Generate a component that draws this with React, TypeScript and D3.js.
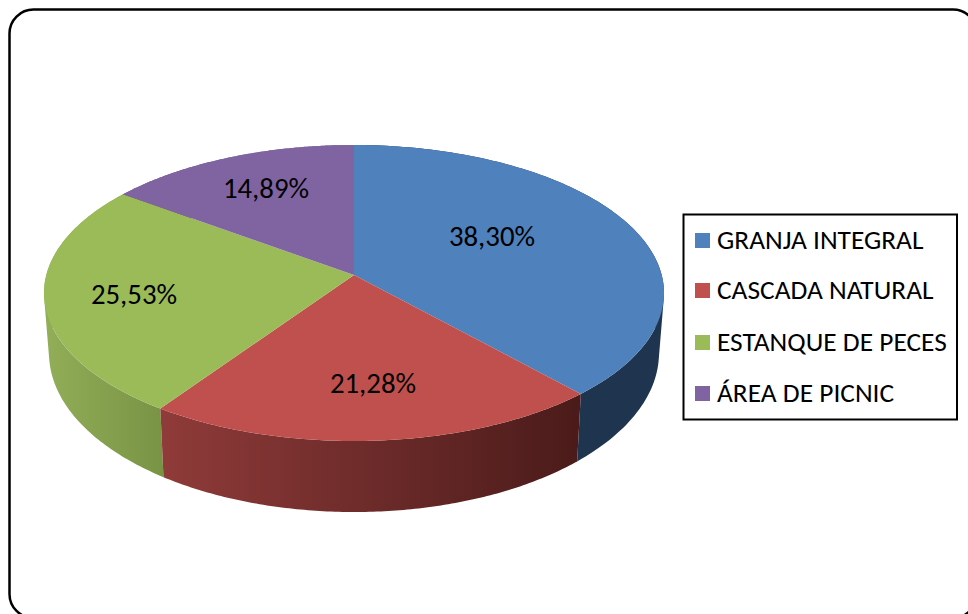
import React from "react";
import * as d3 from "d3";

const categories = ["GRANJA INTEGRAL", "CASCADA NATURAL", "ESTANQUE DE PECES", "ÁREA DE PICNIC"];
const values = [38.30, 21.28, 25.53, 14.89];
const labels = ["38,30%", "21,28%", "25,53%", "14,89%"];
const topColors = ["#4f81bd", "#c0504d", "#9bbb59", "#8064a2"];

const W = 968, H = 614;
const cx = 354, cyTop = 293, rxTop = 310, ryTop = 148;
const cyBot = 353, rxBot = 305, ryBot = 159;
const k = -18 / 148; // perspective shift of the pie's apex

const proj = (a: number, r = 1) => {
  const u = r * Math.sin(a), v = -r * Math.cos(a);
  const d = 1 + k * v;
  return { s: (u * Math.sqrt(1 - k * k)) / d, t: (v + k) / d };
};
const top = (a: number, r = 1): [number, number] => {
  const p = proj(a, r);
  return [cx + rxTop * p.s, cyTop + ryTop * p.t];
};
const bot = (a: number): [number, number] => {
  const p = proj(a);
  return [cx + rxBot * p.s, cyBot + ryBot * p.t];
};

const arcs = d3.pie<number>().sort(null)(values);
const line = d3.line();
const sample = (a0: number, a1: number) => d3.range(0, 121).map((i) => a0 + ((a1 - a0) * i) / 120);

const sideGrad = [
  [{ o: 0, c: "#1f344e" }, { o: 1, c: "#1f344e" }],
  [{ o: 0, c: "#8f3b39" }, { o: 1, c: "#4a1b1a" }],
  [{ o: 0, c: "#93ae58" }, { o: 1, c: "#789344" }],
  [{ o: 0, c: "#6a5387" }, { o: 1, c: "#6a5387" }],
];

const labelPos: [number, number][] = [[492, 246], [373, 393], [134, 304], [266, 198]];
const legendY = [240, 290, 342, 393];

const stripPath = (a0: number, a1: number) => {
  const s = sample(a0, a1);
  return d3.pairs(s).map(([p, q]) => {
    const quad = [top(p), top(q), bot(q), bot(p)] as [number, number][];
    if (d3.polygonArea(quad) < 0) quad.reverse();
    return line(quad) + "Z";
  }).join("");
};

export default function App() {
  const font = "Carlito, Calibri, Lato, sans-serif";
  return (
    <svg width={W} height={H} style={{ position: "absolute", left: 0, top: 0, display: "block", background: "#fff" }} fontFamily={font}>
      <defs>
        {arcs.map((a, i) => {
          const xs = sample(a.startAngle, a.endAngle).flatMap((t) => [top(t)[0], bot(t)[0]]);
          return (
            <linearGradient key={i} id={`side${i}`} gradientUnits="userSpaceOnUse" x1={d3.min(xs)} x2={d3.max(xs)} y1={0} y2={0}>
              {sideGrad[i].map((s) => <stop key={s.o} offset={s.o} stopColor={s.c} />)}
            </linearGradient>
          );
        })}
      </defs>
      <rect x={9.5} y={9.5} width={967.5} height={608.5} rx={24} ry={24} fill="#fff" stroke="#000" strokeWidth={2.5} />
      {[3, 0, 2, 1].map((i) => (
        <path key={i} d={stripPath(arcs[i].startAngle, arcs[i].endAngle)} fill={`url(#side${i})`} />
      ))}
      {arcs.map((a, i) => {
        const pts = [top(0, 0), ...sample(a.startAngle, a.endAngle).map((t) => top(t))];
        return <path key={i} d={line(pts) + "Z"} fill={topColors[i]} />;
      })}
      {labels.map((l, i) => (
        <text key={i} x={labelPos[i][0]} y={labelPos[i][1]} textAnchor="middle" fontSize={28.8} fill="#000">{l}</text>
      ))}
      <rect x={683.5} y={214.5} width={273.5} height={205} fill="#fff" stroke="#000" strokeWidth={2} />
      {categories.map((c, i) => (
        <g key={c}>
          <rect x={695} y={legendY[i] - 7} width={15} height={15} fill={topColors[i]} />
          <text x={717} y={legendY[i] + 8.5} fontSize={27.4} fill="#000">{c}</text>
        </g>
      ))}
    </svg>
  );
}
